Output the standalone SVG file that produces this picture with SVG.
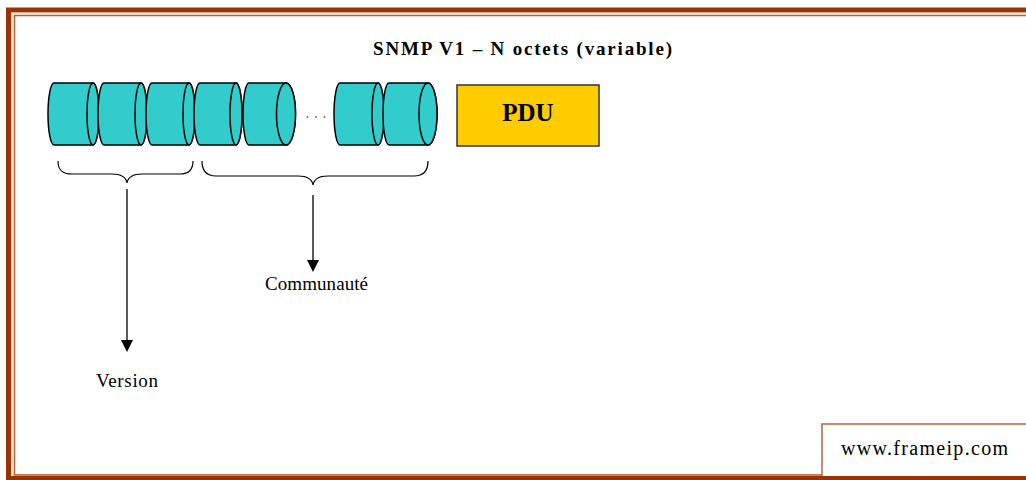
<svg xmlns="http://www.w3.org/2000/svg" width="1026" height="480" viewBox="0 0 1026 480">
  <style>
    .frame-outer { fill: none; stroke: #993300; stroke-width: 5; }
    .frame-mid { fill: none; stroke: #E9C3AC; stroke-width: 1; }
    .frame-inner { fill: none; stroke: #B5602F; stroke-width: 1.5; }
    .cyl { fill: #33CCCC; stroke: #000; stroke-width: 1.5; stroke-linejoin: round; }
    .pdu { fill: #FFCC00; stroke: #333; stroke-width: 1.5; }
    .brace { fill: none; stroke: #000; stroke-width: 1.2; }
    .link { fill: none; stroke: #222; stroke-width: 1.5; marker-end: url(#head); }
    .dot { fill: #666; }
    .serif { font-family: "Liberation Serif", "Times New Roman", serif; fill: #000; }
    .credit { fill: #fff; stroke: #B8643C; stroke-width: 1.5; }
  </style>
  <defs>
    <marker id="head" markerUnits="userSpaceOnUse" markerWidth="12" markerHeight="12" refX="10" refY="6" orient="auto">
      <path d="M0,0 L12,6 L0,12 Z" fill="#000"/>
    </marker>
  </defs>

  <rect width="1026" height="480" fill="#fff"/>

  <!-- page frame: thick brown band with a thin inner rule -->
  <g id="frame">
    <rect class="frame-outer" x="8.5" y="10" width="1040" height="468.5"/>
    <rect class="frame-mid" x="12" y="13" width="1040" height="461.5"/>
    <rect class="frame-inner" x="14.5" y="15.5" width="1040" height="459.5"/>
  </g>

  <!-- title -->
  <g id="title">
    <text class="serif" x="373" y="55" font-size="19" font-weight="bold" textLength="299" lengthAdjust="spacing">SNMP V1 – N octets (variable)</text>
  </g>

  <!-- octet cylinders, version field and start of community -->
  <g id="octets">
    <path class="cyl" d="M54,83 L93,83 A6,31 0 0 1 93,145 L54,145 A6,31 0 0 1 54,83 Z"/>
    <ellipse class="cyl" cx="93" cy="114" rx="6" ry="31"/>
    <path class="cyl" d="M104,83 L141,83 A6,31 0 0 1 141,145 L104,145 A6,31 0 0 1 104,83 Z"/>
    <ellipse class="cyl" cx="141" cy="114" rx="6" ry="31"/>
    <path class="cyl" d="M152,83 L189,83 A6,31 0 0 1 189,145 L152,145 A6,31 0 0 1 152,83 Z"/>
    <ellipse class="cyl" cx="189" cy="114" rx="6" ry="31"/>
    <path class="cyl" d="M200,83 L236,83 A6,31 0 0 1 236,145 L200,145 A6,31 0 0 1 200,83 Z"/>
    <ellipse class="cyl" cx="236" cy="114" rx="6" ry="31"/>
    <path class="cyl" d="M249,83 L286,83 A9.5,31 0 0 1 286,145 L249,145 A6,31 0 0 1 249,83 Z"/>
    <ellipse class="cyl" cx="286" cy="114" rx="9.5" ry="31"/>
  </g>

  <!-- ellipsis between cylinder runs -->
  <g id="ellipsis">
    <circle class="dot" cx="307.5" cy="117" r="0.9"/>
    <circle class="dot" cx="316" cy="117" r="0.9"/>
    <circle class="dot" cx="324.5" cy="117" r="0.9"/>
  </g>

  <!-- last octets of the community string -->
  <g id="octets-end">
    <path class="cyl" d="M340,83 L378,83 A6,31 0 0 1 378,145 L340,145 A6,31 0 0 1 340,83 Z"/>
    <ellipse class="cyl" cx="378" cy="114" rx="6" ry="31"/>
    <path class="cyl" d="M389,83 L428,83 A9,31 0 0 1 428,145 L389,145 A6,31 0 0 1 389,83 Z"/>
    <ellipse class="cyl" cx="428" cy="114" rx="9" ry="31"/>
  </g>

  <!-- PDU block -->
  <g id="pdu">
    <rect class="pdu" x="457" y="85" width="142" height="61"/>
    <text class="serif" x="528" y="121" font-size="25" font-weight="bold" text-anchor="middle">PDU</text>
  </g>

  <!-- braces and arrows -->
  <g id="connectors">
    <path class="brace" d="M58,161 C58,170 62,174 72,174 L112,174 C121,174 126,177 127,183 C128,177 133,174 142,174 L180,174 C189,174 193,170 193,161"/>
    <path class="brace" d="M202,161 C202,171 206,176 216,176 L298,176 C307,176 312,179 313,185 C314,179 319,176 328,176 L414,176 C423,176 428,171 428,161"/>
    <line class="link" x1="127" y1="189" x2="127" y2="350"/>
    <line class="link" x1="313" y1="195" x2="313" y2="270"/>
  </g>

  <g id="label-version">
    <text class="serif" x="96" y="387" font-size="19" textLength="62" lengthAdjust="spacing">Version</text>
  </g>

  <g id="label-community">
    <text class="serif" x="265" y="290" font-size="19" textLength="103" lengthAdjust="spacing">Communauté</text>
  </g>

  <!-- site credit tab -->
  <g id="credit">
    <path class="credit" d="M822,476 L822,424 L1040,424 L1040,476"/>
    <text class="serif" x="841" y="455" font-size="20" textLength="167" lengthAdjust="spacing">www.frameip.com</text>
  </g>
</svg>
